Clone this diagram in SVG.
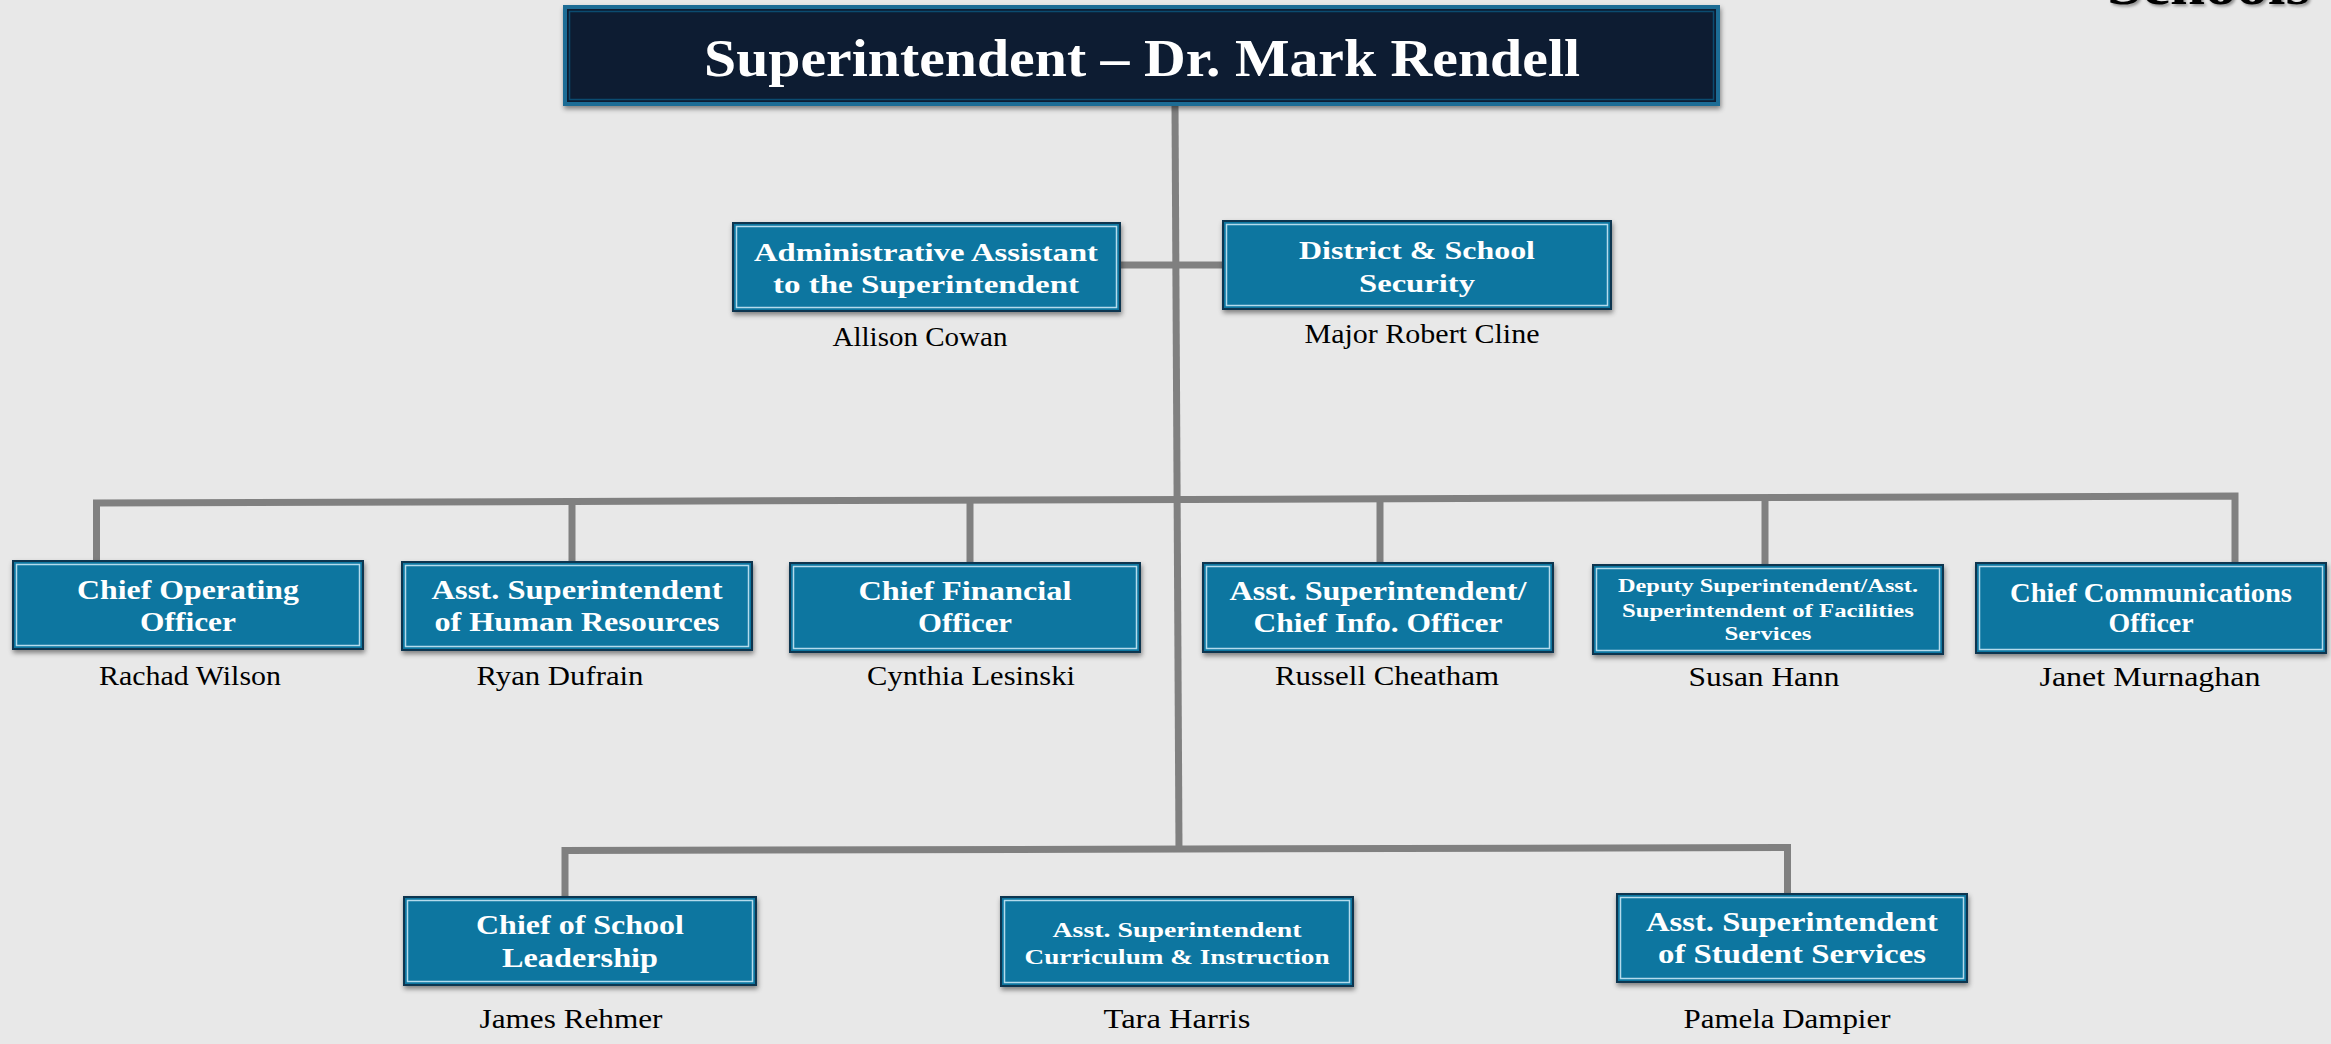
<svg xmlns="http://www.w3.org/2000/svg" width="2331" height="1044" viewBox="0 0 2331 1044">
<defs>
<filter id="sh" x="-5%" y="-10%" width="110%" height="130%">
<feDropShadow dx="1" dy="3" stdDeviation="2.5" flood-color="#000" flood-opacity="0.45"/>
</filter>
<filter id="tsh" x="-5%" y="-50%" width="110%" height="200%">
<feDropShadow dx="2" dy="2" stdDeviation="1.5" flood-color="#000" flood-opacity="0.4"/>
</filter>
</defs>
<style>
.box{fill:#0d76a0;stroke:#0b3550;stroke-width:2}
.inner{fill:none;stroke:#b4dbec;stroke-width:1.5}
.top{fill:#0c1d33;stroke:#1a6c95;stroke-width:4}
.topin{fill:none;stroke:#0b4b70;stroke-width:1.5}
.t{font-family:"Liberation Serif",serif;font-weight:bold;fill:#fff;text-anchor:middle}
.n{font-family:"Liberation Serif",serif;fill:#000;text-anchor:middle;font-size:27px}
.c{fill:none;stroke:#808080;stroke-width:7;stroke-linejoin:miter}
</style>
<rect width="2331" height="1044" fill="#e8e8e8"/>
<text x="2310" y="4" font-family="Liberation Serif,serif" font-weight="bold" font-size="54" text-anchor="end" textLength="203" lengthAdjust="spacingAndGlyphs" fill="#000" filter="url(#tsh)">Schools</text>

<g id="connectors">
<path class="c" d="M1175 106 L1179 850"/>
<path class="c" d="M1120 265 L1223 265"/>
<path class="c" d="M96.5 561 L96.5 503 L2235 496 L2235 563"/>
<path class="c" d="M572 501.4 V562 M970 500.1 V563 M1380 498.8 V563 M1765 497.5 V565"/>
<path class="c" d="M565 897 L565 850.5 L1787.5 847.5 L1787.5 894"/>
</g>

<g id="superintendent">
<rect class="top" x="565" y="7" width="1153" height="97" filter="url(#sh)"/>
<rect class="topin" x="569.5" y="11.5" width="1144" height="88"/>
<text class="t" x="1142" y="76" font-size="52" textLength="876" lengthAdjust="spacingAndGlyphs">Superintendent – Dr. Mark Rendell</text>
</g>

<g id="admin-assistant">
<rect class="box" x="733" y="223" width="387" height="88" filter="url(#sh)"/>
<rect class="inner" x="736.5" y="226.5" width="380" height="81"/>
<text class="t" x="926" y="261" font-size="26" textLength="344" lengthAdjust="spacingAndGlyphs">Administrative Assistant</text>
<text class="t" x="926" y="293" font-size="26" textLength="306" lengthAdjust="spacingAndGlyphs">to the Superintendent</text>
<text class="n" x="920" y="346" textLength="175" lengthAdjust="spacingAndGlyphs">Allison Cowan</text>
</g>

<g id="security">
<rect class="box" x="1223" y="221" width="388" height="88" filter="url(#sh)"/>
<rect class="inner" x="1226.5" y="224.5" width="381" height="81"/>
<text class="t" x="1417" y="259" font-size="26" textLength="236" lengthAdjust="spacingAndGlyphs">District &amp; School</text>
<text class="t" x="1417" y="292" font-size="26" textLength="116" lengthAdjust="spacingAndGlyphs">Security</text>
<text class="n" x="1422" y="343" textLength="235" lengthAdjust="spacingAndGlyphs">Major Robert Cline</text>
</g>

<g id="coo">
<rect class="box" x="13" y="561" width="350" height="88" filter="url(#sh)"/>
<rect class="inner" x="16.5" y="564.5" width="343" height="81"/>
<text class="t" x="188" y="599" font-size="28" textLength="222" lengthAdjust="spacingAndGlyphs">Chief Operating</text>
<text class="t" x="188" y="631" font-size="28" textLength="96" lengthAdjust="spacingAndGlyphs">Officer</text>
<text class="n" x="190" y="685" textLength="182" lengthAdjust="spacingAndGlyphs">Rachad Wilson</text>
</g>

<g id="hr">
<rect class="box" x="402" y="562" width="350" height="88" filter="url(#sh)"/>
<rect class="inner" x="405.5" y="565.5" width="343" height="81"/>
<text class="t" x="577" y="599" font-size="28" textLength="291" lengthAdjust="spacingAndGlyphs">Asst. Superintendent</text>
<text class="t" x="577" y="631" font-size="28" textLength="285" lengthAdjust="spacingAndGlyphs">of Human Resources</text>
<text class="n" x="560" y="685" textLength="167" lengthAdjust="spacingAndGlyphs">Ryan Dufrain</text>
</g>

<g id="cfo">
<rect class="box" x="790" y="563" width="350" height="89" filter="url(#sh)"/>
<rect class="inner" x="793.5" y="566.5" width="343" height="82"/>
<text class="t" x="965" y="600" font-size="28" textLength="213" lengthAdjust="spacingAndGlyphs">Chief Financial</text>
<text class="t" x="965" y="632" font-size="28" textLength="94" lengthAdjust="spacingAndGlyphs">Officer</text>
<text class="n" x="971" y="685" textLength="208" lengthAdjust="spacingAndGlyphs">Cynthia Lesinski</text>
</g>

<g id="cio">
<rect class="box" x="1203" y="563" width="350" height="89" filter="url(#sh)"/>
<rect class="inner" x="1206.5" y="566.5" width="343" height="82"/>
<text class="t" x="1378" y="600" font-size="28" textLength="297" lengthAdjust="spacingAndGlyphs">Asst. Superintendent/</text>
<text class="t" x="1378" y="632" font-size="28" textLength="249" lengthAdjust="spacingAndGlyphs">Chief Info. Officer</text>
<text class="n" x="1387" y="685" textLength="224" lengthAdjust="spacingAndGlyphs">Russell Cheatham</text>
</g>

<g id="facilities">
<rect class="box" x="1593" y="565" width="350" height="89" filter="url(#sh)"/>
<rect class="inner" x="1596.5" y="568.5" width="343" height="82"/>
<text class="t" x="1768" y="592" font-size="18" textLength="300" lengthAdjust="spacingAndGlyphs">Deputy Superintendent/Asst.</text>
<text class="t" x="1768" y="617" font-size="18" textLength="292" lengthAdjust="spacingAndGlyphs">Superintendent of Facilities</text>
<text class="t" x="1768" y="640" font-size="18" textLength="87" lengthAdjust="spacingAndGlyphs">Services</text>
<text class="n" x="1764" y="686" textLength="151" lengthAdjust="spacingAndGlyphs">Susan Hann</text>
</g>

<g id="cco">
<rect class="box" x="1976" y="563" width="350" height="90" filter="url(#sh)"/>
<rect class="inner" x="1979.5" y="566.5" width="343" height="83"/>
<text class="t" x="2151" y="602" font-size="27" textLength="282" lengthAdjust="spacingAndGlyphs">Chief Communications</text>
<text class="t" x="2151" y="632" font-size="27" textLength="85" lengthAdjust="spacingAndGlyphs">Officer</text>
<text class="n" x="2150" y="686" textLength="221" lengthAdjust="spacingAndGlyphs">Janet Murnaghan</text>
</g>

<g id="school-leadership">
<rect class="box" x="404" y="897" width="352" height="88" filter="url(#sh)"/>
<rect class="inner" x="407.5" y="900.5" width="345" height="81"/>
<text class="t" x="580" y="934" font-size="27" textLength="208" lengthAdjust="spacingAndGlyphs">Chief of School</text>
<text class="t" x="580" y="967" font-size="27" textLength="156" lengthAdjust="spacingAndGlyphs">Leadership</text>
<text class="n" x="571" y="1028" textLength="183" lengthAdjust="spacingAndGlyphs">James Rehmer</text>
</g>

<g id="curriculum">
<rect class="box" x="1001" y="897" width="352" height="89" filter="url(#sh)"/>
<rect class="inner" x="1004.5" y="900.5" width="345" height="82"/>
<text class="t" x="1177" y="937" font-size="22" textLength="249" lengthAdjust="spacingAndGlyphs">Asst. Superintendent</text>
<text class="t" x="1177" y="964" font-size="22" textLength="305" lengthAdjust="spacingAndGlyphs">Curriculum &amp; Instruction</text>
<text class="n" x="1177" y="1028" textLength="147" lengthAdjust="spacingAndGlyphs">Tara Harris</text>
</g>

<g id="student-services">
<rect class="box" x="1617" y="894" width="350" height="88" filter="url(#sh)"/>
<rect class="inner" x="1620.5" y="897.5" width="343" height="81"/>
<text class="t" x="1792" y="931" font-size="27" textLength="292" lengthAdjust="spacingAndGlyphs">Asst. Superintendent</text>
<text class="t" x="1792" y="963" font-size="27" textLength="268" lengthAdjust="spacingAndGlyphs">of Student Services</text>
<text class="n" x="1787" y="1028" textLength="207" lengthAdjust="spacingAndGlyphs">Pamela Dampier</text>
</g>
</svg>
